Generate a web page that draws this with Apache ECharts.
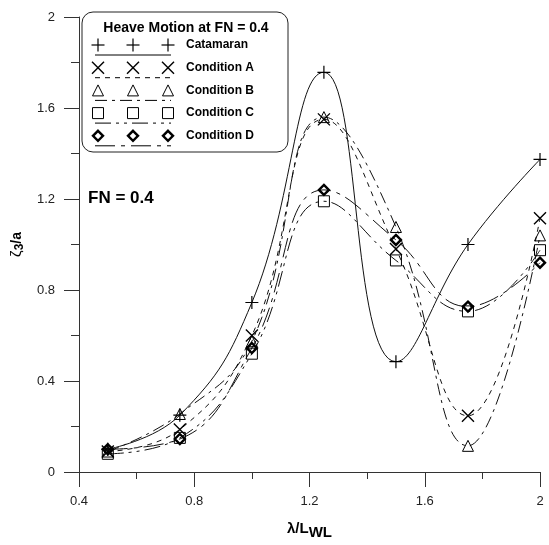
<!DOCTYPE html>
<html>
<head>
<meta charset="utf-8">
<script src="https://cdn.jsdelivr.net/npm/echarts@6/dist/echarts.min.js"></script>
<style>
  html, body { margin: 0; padding: 0; background: #fff; }
  #chart { width: 549px; height: 545px; }
</style>
</head>
<body>
<div id="chart"></div>
<script>
// wave length ratio at each test point
const xValues = [0.5, 0.75, 1.0, 1.25, 1.5, 1.75, 2.0];

// heave RAO values
const catamaran = [0.10, 0.25, 0.745, 1.757, 0.485, 1.0, 1.374];
const conditionA = [0.09, 0.187, 0.60, 1.55, 0.98, 0.247, 1.115];
const conditionB = [0.09, 0.255, 0.575, 1.56, 1.077, 0.115, 1.04];
const conditionC = [0.08, 0.15, 0.52, 1.19, 0.93, 0.706, 0.975];
const conditionD = [0.10, 0.145, 0.545, 1.24, 1.02, 0.727, 0.92];

const xTicks = [0.4, 0.8, 1.2, 1.6, 2];
const yTicks = [0, 0.4, 0.8, 1.2, 1.6, 2];

const FONT = '"Liberation Sans", Arial, sans-serif';

const plusPath = 'path://M5,0L5,10M0,5L10,5';
const crossPath = 'path://M0,0L10,10M10,0L0,10';

const seriesDefs = [
  { name: 'Catamaran', data: catamaran, symbol: plusPath, size: 13, bw: 1.2, dash: 'solid' },
  { name: 'Condition A', data: conditionA, symbol: crossPath, size: 12, bw: 1.4, dash: [5, 5] },
  { name: 'Condition B', data: conditionB, symbol: 'triangle', size: 11, bw: 1, dash: [12, 5, 3, 5] },
  { name: 'Condition C', data: conditionC, symbol: 'rect', size: 11, bw: 1, dash: [16, 5, 3, 5, 3, 5] },
  { name: 'Condition D', data: conditionD, symbol: 'diamond', size: 10, bw: 2.4, dash: [20, 6, 4, 6] }
];

const chart = echarts.init(document.getElementById('chart'));

// legend box drawn by hand: three symbols over a line sample, like the original
const legendItems = [];
legendItems.push({
  type: 'rect',
  shape: { x: 82, y: 12, width: 206, height: 140, r: 11 },
  style: { fill: '#fff', stroke: '#222', lineWidth: 1 }
});
legendItems.push({
  type: 'text',
  style: {
    x: 186, y: 28, text: 'Heave Motion at FN = 0.4', fill: '#000',
    font: 'bold 14px ' + FONT, align: 'center', verticalAlign: 'middle'
  }
});
seriesDefs.forEach((s, i) => {
  const cy = 45 + i * 22.7;
  legendItems.push({
    type: 'line',
    shape: { x1: 95, y1: cy + 10, x2: 171, y2: cy + 10 },
    style: { stroke: '#000', lineWidth: 1, lineDash: s.dash === 'solid' ? null : s.dash }
  });
  [98, 133, 168].forEach(cx => {
    const half = s.size / 2;
    const st = { fill: 'none', stroke: '#000', lineWidth: s.bw };
    if (s.symbol === plusPath) {
      legendItems.push({ type: 'line', shape: { x1: cx - half, y1: cy, x2: cx + half, y2: cy }, style: st });
      legendItems.push({ type: 'line', shape: { x1: cx, y1: cy - half, x2: cx, y2: cy + half }, style: st });
    } else if (s.symbol === crossPath) {
      legendItems.push({ type: 'line', shape: { x1: cx - half, y1: cy - half, x2: cx + half, y2: cy + half }, style: st });
      legendItems.push({ type: 'line', shape: { x1: cx + half, y1: cy - half, x2: cx - half, y2: cy + half }, style: st });
    } else if (s.symbol === 'triangle') {
      legendItems.push({ type: 'polygon', shape: { points: [[cx, cy - half], [cx + half, cy + half], [cx - half, cy + half]] }, style: st });
    } else if (s.symbol === 'rect') {
      legendItems.push({ type: 'rect', shape: { x: cx - half, y: cy - half, width: s.size, height: s.size }, style: st });
    } else {
      legendItems.push({ type: 'polygon', shape: { points: [[cx, cy - half], [cx + half, cy], [cx, cy + half], [cx - half, cy]] }, style: st });
    }
  });
  legendItems.push({
    type: 'text',
    style: {
      x: 186, y: cy, text: s.name, fill: '#000',
      font: 'bold 12px ' + FONT, verticalAlign: 'middle'
    }
  });
});
legendItems.push({
  type: 'text',
  style: { x: 88, y: 198, text: 'FN = 0.4', fill: '#000', font: 'bold 17px ' + FONT, verticalAlign: 'middle' }
});

const fmt = v => String(Math.round(v * 10) / 10);

const options = {
  animation: false,
  backgroundColor: '#fff',
  grid: { left: 79, right: 9, top: 17, bottom: 58 },
  tooltip: { show: false },
  xAxis: {
    type: 'value',
    min: xTicks[0],
    max: xTicks[xTicks.length - 1],
    interval: 0.4,
    name: '{a|λ/L}{s|WL}',
    nameLocation: 'middle',
    nameGap: 45,
    nameTextStyle: {
      rich: {
        a: { fontFamily: FONT, fontSize: 15, fontWeight: 'bold', color: '#000' },
        s: { fontFamily: FONT, fontSize: 15, fontWeight: 'bold', color: '#000', padding: [8, 0, 0, 0] }
      }
    },
    axisLine: { show: true, onZero: false, lineStyle: { color: '#333', width: 1 } },
    axisTick: { show: true, inside: false, length: 15, lineStyle: { color: '#333' } },
    minorTick: { show: true, splitNumber: 2, length: 7, lineStyle: { color: '#333' } },
    axisLabel: { formatter: fmt, fontFamily: FONT, fontSize: 13, color: '#222', margin: 23 },
    splitLine: { show: false }
  },
  yAxis: {
    type: 'value',
    min: yTicks[0],
    max: yTicks[yTicks.length - 1],
    interval: 0.4,
    name: '{z|ζ}{s|3}{a|/a}',
    nameLocation: 'middle',
    nameGap: 52,
    nameTextStyle: {
      rich: {
        z: { fontFamily: FONT, fontSize: 15, color: '#000' },
        s: { fontFamily: FONT, fontSize: 12, fontWeight: 'bold', color: '#000', padding: [6, 0, 0, 0] },
        a: { fontFamily: FONT, fontSize: 14, fontWeight: 'bold', color: '#000' }
      }
    },
    axisLine: { show: true, lineStyle: { color: '#333', width: 1 } },
    axisTick: { show: true, inside: false, length: 15, lineStyle: { color: '#333' } },
    minorTick: { show: true, splitNumber: 2, length: 8, lineStyle: { color: '#333' } },
    axisLabel: { formatter: fmt, fontFamily: FONT, fontSize: 13, color: '#222', margin: 24 },
    splitLine: { show: false }
  },
  graphic: legendItems,
  series: seriesDefs.map(s => ({
    name: s.name,
    type: 'line',
    smooth: 0.45,
    data: xValues.map((x, i) => [x, s.data[i]]),
    symbol: s.symbol,
    symbolSize: s.size,
    showSymbol: true,
    itemStyle: { color: 'rgba(0,0,0,0)', borderColor: '#000', borderWidth: s.bw },
    lineStyle: { color: '#111', width: 1, type: s.dash },
    emphasis: { disabled: true },
    z: 3
  }))
};

chart.setOption(options);
</script>
</body>
</html>
